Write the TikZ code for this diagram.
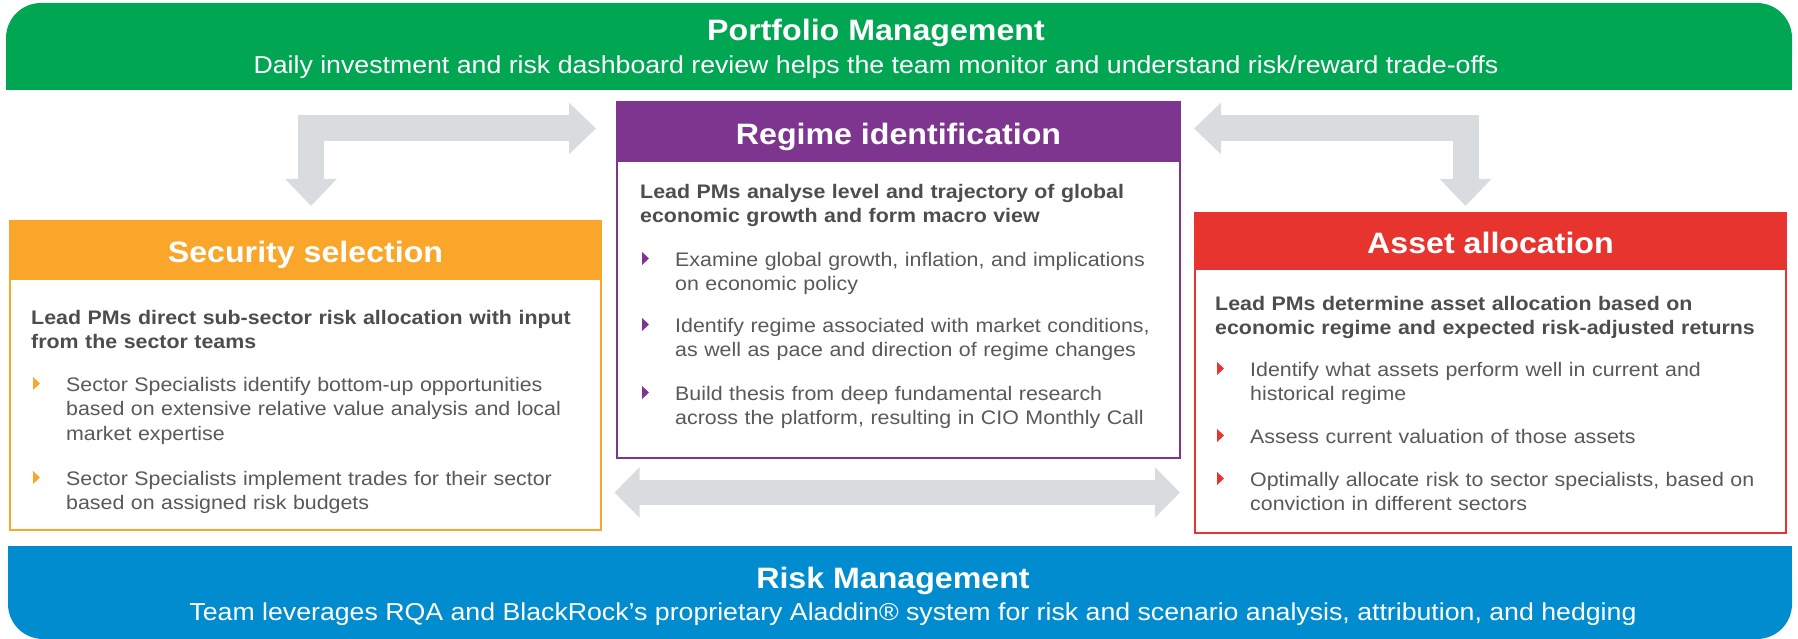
\documentclass[tikz,border=0pt]{standalone}
\usepackage{fontspec}
\setmainfont{Liberation Sans}[FakeStretch=1.09]
\usetikzlibrary{arrows.meta}

\definecolor{pmgreen}{HTML}{00A651}
\definecolor{regpurple}{HTML}{7D358F}
\definecolor{secorange}{HTML}{F9A62A}
\definecolor{assetred}{HTML}{E8342E}
\definecolor{riskblue}{HTML}{008CCF}
\definecolor{flowgray}{HTML}{D9DCDF}
\definecolor{leadgray}{HTML}{4D4D4F}
\definecolor{ptgray}{HTML}{58595B}

\newcommand{\fsz}[2]{\fontsize{#1bp}{#2bp}\selectfont}

\begin{document}
\begin{tikzpicture}[x=1bp,y=-1bp,
    band/.style={text=white,inner sep=0,anchor=base},
    frame/.style={draw=#1,line width=2bp,fill=white,inner sep=0,outer sep=0,anchor=north west},
    head/.style={fill=#1,inner sep=0,outer sep=0,anchor=north west,text=white,
                 font=\fsz{29.5}{32}\bfseries,text height=24.5bp,text depth=0pt},
    lead/.style={text=leadgray,font=\fsz{19.6}{24}\bfseries,text width=560bp,align=left,
                 inner sep=0,anchor=base west},
    point/.style={text=ptgray,font=\fsz{19.6}{24.5},text width=520bp,align=left,
                  inner sep=0,anchor=base west},
    flow/.style={draw=flowgray,line width=26bp,line join=miter,
                 {Triangle[length=27bp,width=50bp]}-{Triangle[length=27bp,width=50bp]}}]

\useasboundingbox (0,0) rectangle (1798,639);

% top and bottom bands
\fill[pmgreen,rounded corners=35bp] (6,3) rectangle (1792,90);
\fill[pmgreen] (6,50) rectangle (1792,90);
\fill[riskblue,rounded corners=35bp] (8,546) rectangle (1792,639);
\fill[riskblue] (8,546) rectangle (1792,590);

\node[band,font=\fsz{29.5}{32}\bfseries] (pm) at (876,40.5) {Portfolio Management};
\node[band,font=\fsz{24.5}{28}] (pmsub) at (876,74) {Daily investment and risk dashboard review helps the team monitor and understand risk/reward trade-offs};
\node[band,font=\fsz{29.5}{32}\bfseries] (rm) at (893,588) {Risk Management};
\node[band,font=\fsz{24.5}{28}] (rmsub) at (913,620) {Team leverages RQA and BlackRock’s proprietary Aladdin® system for risk and scenario analysis, attribution, and hedging};

% the three boxes
\node[frame=secorange,minimum width=591bp,minimum height=309bp] (sec) at (10,221) {};
\node[head=secorange,minimum width=591bp,minimum height=59bp] (sech) at (sec.north west) {Security selection};

\node[frame=regpurple,minimum width=563bp,minimum height=356bp] (reg) at (617,102) {};
\node[head=regpurple,minimum width=563bp,minimum height=60bp] (regh) at (reg.north west) {Regime identification};

\node[frame=assetred,minimum width=591bp,minimum height=320bp] (asset) at (1195,213) {};
\node[head=assetred,minimum width=591bp,minimum height=57bp] (asseth) at (asset.north west) {Asset allocation};

% box texts
\node[lead] (sl) at ([xshift=21bp,yshift=-103bp]sec.north west)
  {Lead PMs direct sub-sector risk allocation with input\\from the sector teams};
\node[point] (s1) at ([xshift=56bp,yshift=-170bp]sec.north west)
  {Sector Specialists identify bottom-up opportunities\\based on extensive relative value analysis and local\\market expertise};
\node[point] (s2) at ([xshift=56bp,yshift=-264bp]sec.north west)
  {Sector Specialists implement trades for their sector\\based on assigned risk budgets};

\node[lead] (rl) at ([xshift=23bp,yshift=-96bp]reg.north west)
  {Lead PMs analyse level and trajectory of global\\economic growth and form macro view};
\node[point] (r1) at ([xshift=58bp,yshift=-164bp]reg.north west)
  {Examine global growth, inflation, and implications\\on economic policy};
\node[point] (r2) at ([xshift=58bp,yshift=-230bp]reg.north west)
  {Identify regime associated with market conditions,\\as well as pace and direction of regime changes};
\node[point] (r3) at ([xshift=58bp,yshift=-298bp]reg.north west)
  {Build thesis from deep fundamental research\\across the platform, resulting in CIO Monthly Call};

\node[lead] (al) at ([xshift=20bp,yshift=-97bp]asset.north west)
  {Lead PMs determine asset allocation based on\\economic regime and expected risk-adjusted returns};
\node[point] (a1) at ([xshift=55bp,yshift=-163bp]asset.north west)
  {Identify what assets perform well in current and\\historical regime};
\node[point] (a2) at ([xshift=55bp,yshift=-230bp]asset.north west)
  {Assess current valuation of those assets};
\node[point] (a3) at ([xshift=55bp,yshift=-273bp]asset.north west)
  {Optimally allocate risk to sector specialists, based on\\conviction in different sectors};

% bullet marks
\foreach \p/\c in {s1/secorange,s2/secorange,r1/regpurple,r2/regpurple,r3/regpurple,
                   a1/assetred,a2/assetred,a3/assetred}
  \fill[\c] ([xshift=-33bp,yshift=1bp]\p.base west) -- ++(0,-13) -- ++(7,6.5) -- cycle;

% links between the boxes
\coordinate (regl) at ([xshift=-21bp,yshift=-26.5bp]reg.north west);
\coordinate (sect) at ([xshift=301bp,yshift=15bp]sec.north west);
\coordinate (regr) at ([xshift=14bp,yshift=-26.5bp]reg.north east);
\coordinate (asst) at ([xshift=270.5bp,yshift=7bp]asset.north west);
\coordinate (bl) at ([xshift=-2.5bp,yshift=-34.5bp]reg.south west);
\coordinate (br) at ([yshift=-34.5bp]reg.south east);

\draw[flow] (regl) -| (sect);
\draw[flow] (regr) -| (asst);
\draw[flow,line width=25bp,{Triangle[length=25bp,width=49bp]}-{Triangle[length=25bp,width=49bp]}] (bl) -- (br);

\end{tikzpicture}
\end{document}
